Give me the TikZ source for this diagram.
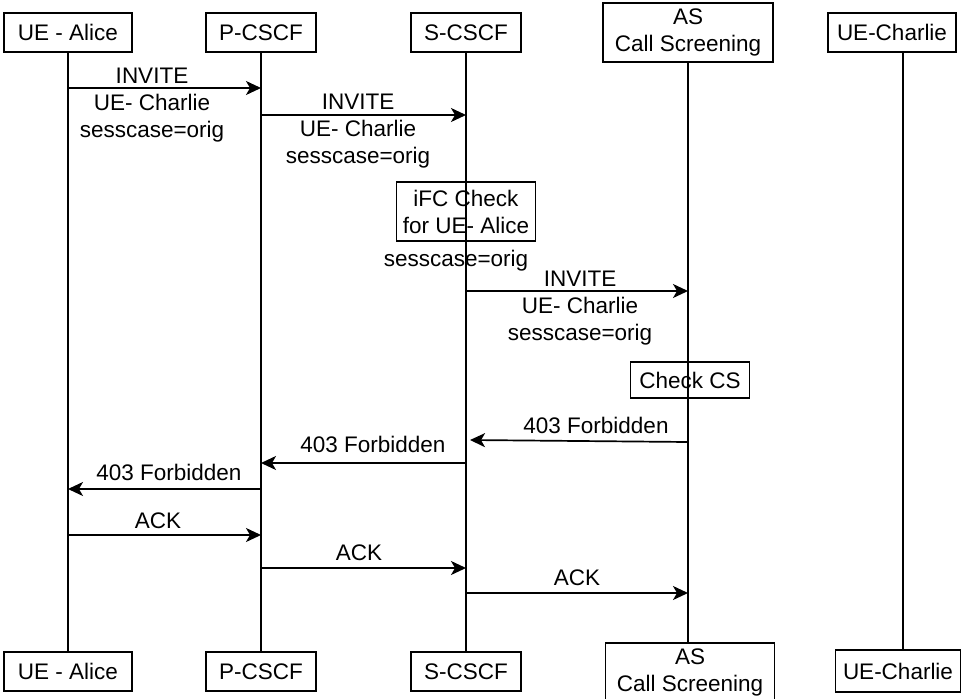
\documentclass[tikz,border=0pt]{standalone}
\usepackage{fontspec}
\setmainfont{Liberation Sans}
\usetikzlibrary{arrows.meta}
\begin{document}
\begin{tikzpicture}[x=1pt,y=-1pt,
  every node/.style={font=\fontsize{22.5}{27}\selectfont,inner sep=0pt,align=center},
  entity/.style={draw,line width=1.7pt,minimum height=39pt},
  marker/.style={draw,line width=1.7pt},
  msg/.style={line width=1.7pt,-{Stealth[length=15pt,width=14pt,inset=4pt]}},
  lifeline/.style={line width=1.7pt},
  lbl/.style={anchor=base}]
\useasboundingbox (0,0) rectangle (965,698);
% entities, top row
\node[entity,minimum width=128pt] (alice) at (68,32.5) {UE - Alice};
\node[entity,minimum width=110pt] (pcscf) at (261,32.5) {P-CSCF};
\node[entity,minimum width=110pt] (scscf) at (466,32.5) {S-CSCF};
\node[entity,minimum width=170pt,minimum height=59pt] (as) at (688,32.5) {AS\\Call Screening};
\node[entity,minimum width=128pt] (charlie) at (892,32.5) {UE-Charlie};
% entities, bottom row
\node[entity,minimum width=128pt] (aliceB) at (68,671.5) {UE - Alice};
\node[entity,minimum width=110pt] (pcscfB) at (261,671.5) {P-CSCF};
\node[entity,minimum width=110pt] (scscfB) at (466,671.5) {S-CSCF};
\node[entity,minimum width=169pt,minimum height=59pt] (asB) at (690,672.5) {AS\\Call Screening};
\node[entity,minimum width=125pt,minimum height=42pt] (charlieB) at (898,671) {UE-Charlie};
\coordinate (lcharlie) at (903,0);
% lifelines
\draw[lifeline] (alice) -- (aliceB);
\draw[lifeline] (pcscf) -- (pcscfB);
\draw[lifeline] (scscf) -- (scscfB);
\draw[lifeline] (as.south) -- (as.south |- asB.north);
\draw[lifeline] (charlie.south -| lcharlie) -- (charlieB.north -| lcharlie);
% INVITE towards the AS
\draw[msg] (alice |- 0,88) -- (pcscf |- 0,88);
\node[lbl] (inv1) at (152,137) {INVITE\\UE- Charlie\\sesscase=orig};
\draw[msg] (pcscf |- 0,115) -- (scscf |- 0,115);
\node[lbl] (inv2) at (358,163) {INVITE\\UE- Charlie\\sesscase=orig};
\node[marker,minimum width=139pt,minimum height=59pt] (ifc) at (466,211.5) {iFC Check\\for UE- Alice};
\node[lbl] (sess) at (456,266) {sesscase=orig};
\draw[msg] (scscf |- 0,291) -- (as |- 0,291);
\node[lbl] (inv3) at (580,340) {INVITE\\UE- Charlie\\sesscase=orig};
\node[marker,minimum width=119pt,minimum height=36pt] (checkcs) at (690,380) {Check CS};
% 403 back to the caller
\draw[msg] (as |- 0,442) -- ([xshift=4pt]scscf |- 0,440);
\node[lbl] (forb1) at (596,433) {403 Forbidden};
\draw[msg] (scscf |- 0,463) -- (pcscf |- 0,463);
\node[lbl] (forb2) at (373,452) {403 Forbidden};
\draw[msg] (pcscf |- 0,489) -- (alice |- 0,489);
\node[lbl] (forb3) at (169,480) {403 Forbidden};
% ACK
\draw[msg] (alice |- 0,535) -- (pcscf |- 0,535);
\node[lbl] (ack1) at (158,528) {ACK};
\draw[msg] (pcscf |- 0,568) -- (scscf |- 0,568);
\node[lbl] (ack2) at (359,560) {ACK};
\draw[msg] (scscf |- 0,593) -- (as |- 0,593);
\node[lbl] (ack3) at (577,585) {ACK};
\end{tikzpicture}
\end{document}
